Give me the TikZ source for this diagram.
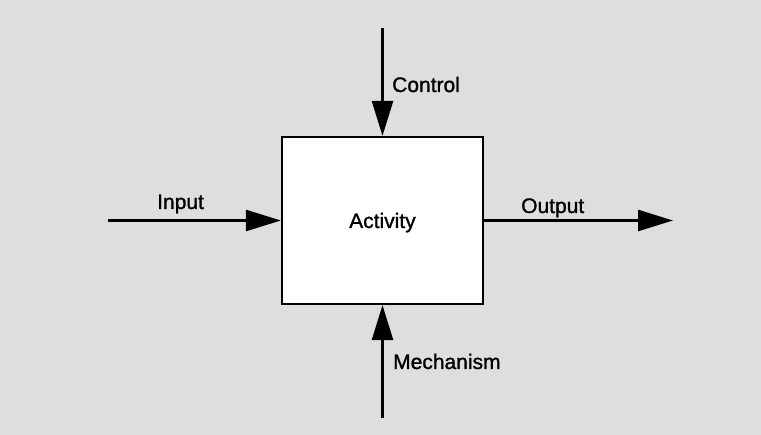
\documentclass[tikz,border=0pt]{standalone}
\usepackage{fontspec}
\setmainfont{Liberation Sans}
\newfontfamily\lblfont[FakeBold=1.2]{Liberation Sans}
\usetikzlibrary{arrows.meta}
\begin{document}
\begin{tikzpicture}[x=1pt,y=1pt,
  lbl/.style={font=\lblfont\fontsize{21}{24}\selectfont, inner sep=0pt},
  flow/.style={line width=2.6pt, -{Triangle[length=35pt,width=21pt]}},
  actbox/.style={draw, line width=2.2pt, fill=white, minimum width=201pt, minimum height=167pt, inner sep=0pt}]
  \fill[black!13] (0,0) rectangle (761,435);
  \useasboundingbox (0,0) rectangle (761,435);
  \node[actbox] (act) at (382.5,214.5) {};
  \node[lbl, anchor=base west] (actlbl) at (349,207) {Activity};
  \coordinate (ctop) at (382.5,407);
  \coordinate (mbot) at (382.5,17);
  \coordinate (inl) at (108,214.5);
  \coordinate (outr) at (673,214.5);
  \draw[flow] (ctop) -- (act.north);
  \draw[flow] (mbot) -- (act.south);
  \draw[flow] (inl) -- (act.west);
  \draw[flow] (act.east) -- (outr);
  \node[lbl, anchor=base west] (clbl) at (392,343) {Control};
  \node[lbl, anchor=base west] (ilbl) at (157,226) {Input};
  \node[lbl, anchor=base west] (olbl) at (521,222) {Output};
  \node[lbl, anchor=base west] (mlbl) at (393,66) {Mechanism};
\end{tikzpicture}
\end{document}
